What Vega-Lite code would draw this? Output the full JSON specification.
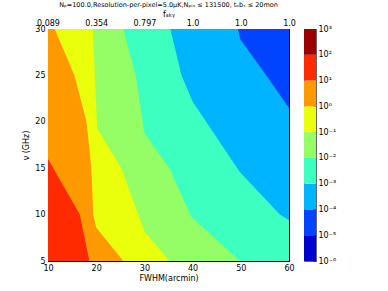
{
  "$schema": "https://vega.github.io/schema/vega-lite/v6.json",
  "padding": {"left": 22, "top": 1, "right": 5, "bottom": 3},
  "config": {
    "font": "DejaVu Sans",
    "view": {"stroke": null},
    "axis": {"labelFontSize": 8, "titleFontSize": 8, "titleFontWeight": "normal", "labelColor": "black", "titleColor": "black", "tickColor": "black", "domain": true, "domainColor": "black", "domainWidth": 1, "grid": false, "tickSize": -4, "labelPadding": 7, "labelFlush": false, "labelOverlap": false}
  },
  "datasets": {
    "bounds": [
      {"band": "b8", "nu": 30, "fwhm": 10}, {"band": "b8", "nu": 5, "fwhm": 10},
      {"band": "b7", "nu": 30, "fwhm": 10}, {"band": "b7", "nu": 16, "fwhm": 10}, {"band": "b7", "nu": 10, "fwhm": 16.6}, {"band": "b7", "nu": 5, "fwhm": 18.6},
      {"band": "b6", "nu": 30, "fwhm": 11.4}, {"band": "b6", "nu": 25, "fwhm": 15.5}, {"band": "b6", "nu": 20, "fwhm": 18}, {"band": "b6", "nu": 15, "fwhm": 19}, {"band": "b6", "nu": 10, "fwhm": 19.4}, {"band": "b6", "nu": 8.6, "fwhm": 20}, {"band": "b6", "nu": 5, "fwhm": 25.6},
      {"band": "b5", "nu": 30, "fwhm": 19.3}, {"band": "b5", "nu": 19.3, "fwhm": 20.2}, {"band": "b5", "nu": 15, "fwhm": 25.2}, {"band": "b5", "nu": 8.2, "fwhm": 30}, {"band": "b5", "nu": 5, "fwhm": 35.2},
      {"band": "b4", "nu": 30, "fwhm": 25.6}, {"band": "b4", "nu": 25, "fwhm": 28.2}, {"band": "b4", "nu": 18.8, "fwhm": 30}, {"band": "b4", "nu": 15, "fwhm": 35.2}, {"band": "b4", "nu": 9.8, "fwhm": 39.7}, {"band": "b4", "nu": 5, "fwhm": 49.8},
      {"band": "b3", "nu": 30, "fwhm": 35.4}, {"band": "b3", "nu": 25, "fwhm": 37.7}, {"band": "b3", "nu": 22.2, "fwhm": 40}, {"band": "b3", "nu": 14.6, "fwhm": 49.8}, {"band": "b3", "nu": 10, "fwhm": 58.1}, {"band": "b3", "nu": 9.4, "fwhm": 60}, {"band": "b3", "nu": 5, "fwhm": 60},
      {"band": "b2", "nu": 30, "fwhm": 49.4}, {"band": "b2", "nu": 28.9, "fwhm": 49.9}, {"band": "b2", "nu": 25, "fwhm": 55.3}, {"band": "b2", "nu": 21.5, "fwhm": 60}, {"band": "b2", "nu": 5, "fwhm": 60}
    ],
    "bands": [
      {"band": "b1", "lo": -6, "hi": -5}, {"band": "b2", "lo": -5, "hi": -4}, {"band": "b3", "lo": -4, "hi": -3},
      {"band": "b4", "lo": -3, "hi": -2}, {"band": "b5", "lo": -2, "hi": -1}, {"band": "b6", "lo": -1, "hi": 0},
      {"band": "b7", "lo": 0, "hi": 1}, {"band": "b8", "lo": 1, "hi": 2}, {"band": "b9", "lo": 2, "hi": 3}
    ]
  },
  "spacing": 15,
  "bounds": "flush",
  "hconcat": [
    {
      "title": {"text": "Nₚ=100.0,Resolution-per-pixel=5.0μK,Nₚᵢₓ ≤ 131500, tₒbₛ ≤ 20mon", "fontSize": 6.5, "fontWeight": "normal", "color": "black", "offset": 2},
      "width": 241,
      "height": 232,
      "data": {"name": "bounds"},
      "resolve": {"axis": {"x": "independent", "y": "independent"}},
      "layer": [
        {
          "transform": [{"filter": "datum.band == 'b8'"}],
          "mark": {"type": "area", "orient": "horizontal"},
          "encoding": {
            "y": {"field": "nu", "type": "quantitative", "scale": {"domain": [5, 30], "nice": false, "zero": false}, "axis": {"orient": "left", "values": [5, 10, 15, 20, 25, 30], "title": "ν (GHz)", "titlePadding": 4}},
            "x": {"field": "fwhm", "type": "quantitative", "scale": {"domain": [10, 60], "nice": false, "zero": false}, "axis": {"orient": "bottom", "values": [10, 20, 30, 40, 50, 60], "title": "FWHM(arcmin)", "titlePadding": 2}},
            "x2": {"datum": 60},
            "color": {"field": "band", "type": "nominal", "legend": null, "scale": {"domain": ["b1", "b2", "b3", "b4", "b5", "b6", "b7", "b8", "b9"], "range": ["#0000cc", "#0044ff", "#00b4ff", "#3dffc0", "#93ff64", "#eaff0c", "#ff9900", "#ff2a00", "#990000"]}}
          }
        },
        {
          "transform": [{"filter": "datum.band == 'b7'"}],
          "mark": {"type": "area", "orient": "horizontal"},
          "encoding": {"y": {"field": "nu", "type": "quantitative", "axis": null}, "x": {"field": "fwhm", "type": "quantitative", "axis": null}, "x2": {"datum": 60}, "color": {"field": "band", "type": "nominal", "legend": null}}
        },
        {
          "transform": [{"filter": "datum.band == 'b6'"}],
          "mark": {"type": "area", "orient": "horizontal"},
          "encoding": {"y": {"field": "nu", "type": "quantitative", "axis": null}, "x": {"field": "fwhm", "type": "quantitative", "axis": null}, "x2": {"datum": 60}, "color": {"field": "band", "type": "nominal", "legend": null}}
        },
        {
          "transform": [{"filter": "datum.band == 'b5'"}],
          "mark": {"type": "area", "orient": "horizontal"},
          "encoding": {"y": {"field": "nu", "type": "quantitative", "axis": null}, "x": {"field": "fwhm", "type": "quantitative", "axis": null}, "x2": {"datum": 60}, "color": {"field": "band", "type": "nominal", "legend": null}}
        },
        {
          "transform": [{"filter": "datum.band == 'b4'"}],
          "mark": {"type": "area", "orient": "horizontal"},
          "encoding": {"y": {"field": "nu", "type": "quantitative", "axis": null}, "x": {"field": "fwhm", "type": "quantitative", "axis": null}, "x2": {"datum": 60}, "color": {"field": "band", "type": "nominal", "legend": null}}
        },
        {
          "transform": [{"filter": "datum.band == 'b3'"}],
          "mark": {"type": "area", "orient": "horizontal"},
          "encoding": {"y": {"field": "nu", "type": "quantitative", "axis": null}, "x": {"field": "fwhm", "type": "quantitative", "axis": null}, "x2": {"datum": 60}, "color": {"field": "band", "type": "nominal", "legend": null}}
        },
        {
          "transform": [{"filter": "datum.band == 'b2'"}],
          "mark": {"type": "area", "orient": "horizontal"},
          "encoding": {"y": {"field": "nu", "type": "quantitative", "axis": null}, "x": {"field": "fwhm", "type": "quantitative", "axis": null}, "x2": {"datum": 60}, "color": {"field": "band", "type": "nominal", "legend": null}}
        },
        {
          "mark": {"type": "point", "opacity": 0},
          "encoding": {
            "y": {"field": "nu", "type": "quantitative", "axis": {"orient": "right", "values": [5, 10, 15, 20, 25, 30], "labels": false, "title": null}},
            "x": {"field": "fwhm", "type": "quantitative", "axis": {"orient": "top", "values": [10, 20, 30, 40, 50, 60], "labelExpr": "datum.value == 10 ? '0.089' : datum.value == 20 ? '0.354' : datum.value == 30 ? '0.797' : '1.0'", "title": "fₛₖᵧ", "titleFontSize": 8, "titlePadding": 1, "labelPadding": 6}}
          }
        }
      ]
    },
    {
      "width": 12,
      "height": 232,
      "data": {"name": "bands"},
      "resolve": {"axis": {"x": "independent", "y": "independent"}},
      "layer": [
        {
          "mark": {"type": "rect"},
          "encoding": {
            "y": {"field": "lo", "type": "quantitative", "scale": {"domain": [-6, 3], "nice": false, "zero": false}, "axis": {"orient": "right", "values": [-6, -5, -4, -3, -2, -1, 0, 1, 2, 3], "labelExpr": "'10' + ['⁻⁶','⁻⁵','⁻⁴','⁻³','⁻²','⁻¹','⁰','¹','²','³'][datum.value + 6]", "title": null, "tickSize": -3, "tickColor": "#333333", "labelPadding": 5, "domainColor": "#666666"}},
            "y2": {"field": "hi"},
            "x": {"datum": 0, "scale": {"domain": [0, 1], "nice": false, "zero": false}, "axis": {"orient": "bottom", "labels": false, "ticks": false, "title": null, "domainColor": "#666666"}},
            "x2": {"datum": 1},
            "color": {"field": "band", "type": "nominal", "legend": null, "scale": {"domain": ["b1", "b2", "b3", "b4", "b5", "b6", "b7", "b8", "b9"], "range": ["#0000cc", "#0044ff", "#00b4ff", "#3dffc0", "#93ff64", "#eaff0c", "#ff9900", "#ff2a00", "#990000"]}}
          }
        },
        {
          "mark": {"type": "point", "opacity": 0},
          "encoding": {
            "y": {"field": "lo", "type": "quantitative", "axis": {"orient": "left", "labels": false, "ticks": false, "title": null, "domainColor": "#666666"}},
            "x": {"datum": 0, "axis": {"orient": "top", "labels": false, "ticks": false, "title": null, "domainColor": "#666666"}}
          }
        }
      ]
    }
  ]
}
